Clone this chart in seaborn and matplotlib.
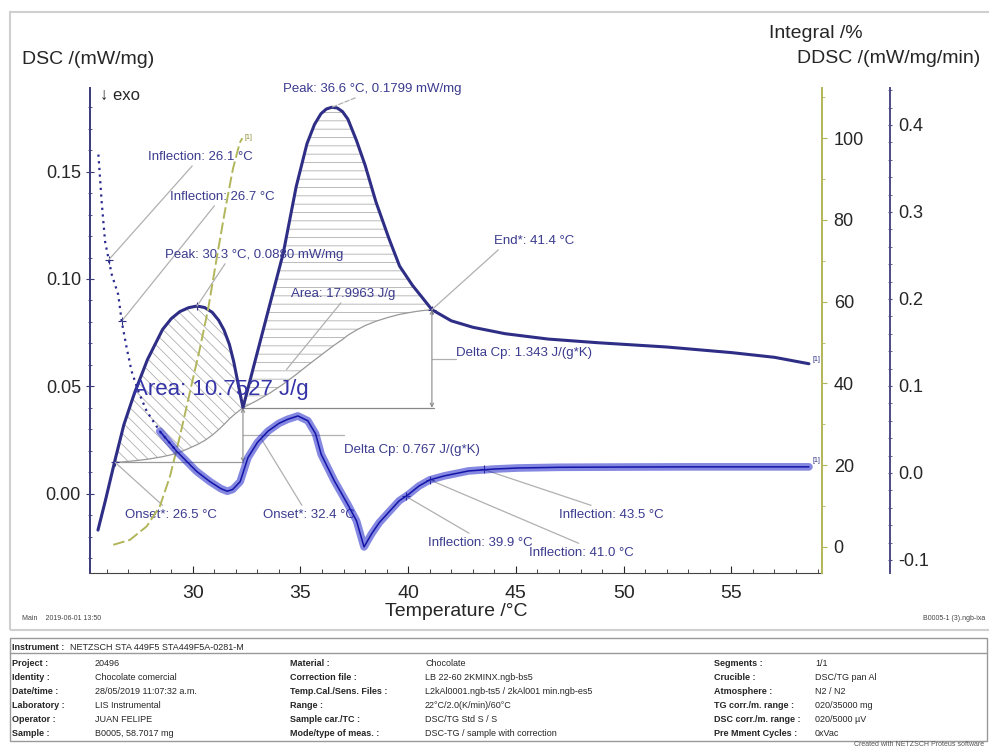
import matplotlib
matplotlib.use('Agg')
import matplotlib.pyplot as plt
from matplotlib.patches import Rectangle
from matplotlib.ticker import MultipleLocator, FormatStrFormatter
import seaborn as sns

# DSC signal /(mW/mg)
dsc_temp = [25.6, 25.95, 26.4, 26.8, 27.3, 27.9, 28.6, 29.0, 29.4, 29.8, 30.2, 30.55, 30.9,
            31.2, 31.45, 31.7, 31.9, 32.1, 32.33, 32.95, 33.6, 34.2, 34.8, 35.3, 35.65, 35.95,
            36.2, 36.45, 36.7, 36.95, 37.2, 37.6, 38.0, 38.5, 39.1, 39.6, 40.2, 40.6, 41.1,
            42.0, 43.0, 44.5, 46.5, 48.8, 52.0, 55.0, 57.0, 58.6]
dsc_val = [-0.017, -0.003, 0.016, 0.032, 0.047, 0.0625, 0.0765, 0.0815, 0.0848, 0.0866, 0.0874,
           0.0867, 0.0845, 0.0808, 0.0762, 0.0695, 0.0615, 0.0515, 0.040, 0.064, 0.089, 0.112,
           0.143, 0.163, 0.172, 0.177, 0.1792, 0.180, 0.1797, 0.178, 0.1745, 0.1645, 0.153,
           0.136, 0.119, 0.106, 0.097, 0.092, 0.0857, 0.0805, 0.0775, 0.0745, 0.072, 0.0703,
           0.0683, 0.0657, 0.0635, 0.0605]

# peak limits and sigmoid baselines (same temperatures as the DSC points between them)
peak1_start, peak1_end = 26.4, 32.33
peak2_start, peak2_end = 32.33, 41.1
base1_val = [0.0145, 0.0148, 0.0153, 0.016, 0.0172, 0.0181, 0.0193, 0.021, 0.0228, 0.0247,
             0.0272, 0.0298, 0.0322, 0.0348, 0.0366, 0.0382, 0.040]
base2_val = [0.040, 0.0432, 0.047, 0.051, 0.0555, 0.0595, 0.0622, 0.0645, 0.0664, 0.0683,
             0.0701, 0.0718, 0.0738, 0.0762, 0.0783, 0.0803, 0.0822, 0.0835, 0.0846, 0.0852,
             0.0857]

# DDSC /(mW/mg/min)
ddsc_temp = [25.62, 25.77, 25.93, 26.1, 26.24, 26.54, 26.7, 26.93, 27.16, 27.47, 27.86, 28.47,
             29.25, 30.17, 30.8, 31.3, 31.6, 31.85, 32.2, 32.56, 33.0, 33.49, 34.0, 34.41, 34.88,
             35.34, 35.7, 35.96, 36.57, 37.19, 37.6, 37.95, 38.3, 38.66, 39.1, 39.58, 40.0, 40.5,
             41.0, 41.67, 42.8, 44.0, 45.1, 47.0, 50.0, 53.0, 56.0, 58.6]
ddsc_val = [0.366, 0.312, 0.266, 0.245, 0.228, 0.205, 0.1745, 0.144, 0.117, 0.094, 0.071, 0.048,
            0.025, 0.002, -0.010, -0.018, -0.021, -0.019, -0.010, 0.0176, 0.035, 0.048, 0.057,
            0.0617, 0.0655, 0.060, 0.045, 0.0214, -0.009, -0.036, -0.055, -0.085, -0.070, -0.057,
            -0.045, -0.032, -0.025, -0.015, -0.008, -0.0034, 0.0023, 0.0045, 0.0057, 0.0065,
            0.0068, 0.007, 0.007, 0.007]

# Integral /%
int_temp = [26.31, 27.08, 27.86, 28.47, 28.94, 29.4, 29.86, 30.32, 30.71, 31.1, 31.48, 31.86,
            32.18, 32.3]
int_val = [0.5, 1.7, 5.0, 9.9, 17.2, 27.0, 37.7, 48.3, 58.1, 70.3, 81.8, 92.4, 98.9, 100.0]

NAVY = '#2e2e86'
BLUE = '#1f26c8'
OLIVE = '#b2b65a'
GRAY = '#b0b0b0'
TXT = '#3b3b8f'

sns.set_style('ticks')
plt.rcParams['font.family'] = ['Liberation Sans', 'DejaVu Sans']
plt.rcParams['hatch.linewidth'] = 0.6

fig = plt.figure(figsize=(9.89, 7.5), dpi=100)
ax = fig.add_axes([0.091, 0.236, 0.740, 0.6467])
ax_int = ax.twinx()
ax_dd = ax.twinx()
ax_dd.spines['right'].set_position(('axes', 1.093))

ax.set_xlim(25.23, 59.2)
ax.set_ylim(-0.037, 0.189)
ax_int.set_ylim(-6.4, 112.3)
ax_dd.set_ylim(-0.115, 0.4425)

i1, j1 = dsc_temp.index(peak1_start), dsc_temp.index(peak1_end) + 1
i2, j2 = dsc_temp.index(peak2_start), dsc_temp.index(peak2_end) + 1

# hatched peak areas and baselines
ax.fill_between(dsc_temp[i1:j1], dsc_val[i1:j1], base1_val, facecolor='none',
                edgecolor=GRAY, hatch='\\\\\\', linewidth=0)
ax.fill_between(dsc_temp[i2:j2], dsc_val[i2:j2], base2_val, facecolor='none',
                edgecolor=GRAY, hatch='--', linewidth=0)
sns.lineplot(x=dsc_temp[i1:j1], y=base1_val, ax=ax, color='#999999', linewidth=0.9)
sns.lineplot(x=dsc_temp[i2:j2], y=base2_val, ax=ax, color='#999999', linewidth=0.9)
ax.plot([peak1_start, peak1_end], [base1_val[0], base1_val[0]], color='#999999', lw=0.9)
ax.plot([peak2_start, 41.2], [base2_val[0], base2_val[0]], color='#888888', lw=0.9)

# delta Cp arrows
arrow = dict(arrowstyle='<->', color='#888888', lw=0.8, shrinkA=0, shrinkB=0, mutation_scale=6)
ax.annotate('', xy=(peak1_end, base1_val[0]), xytext=(peak1_end, base1_val[-1]),
            arrowprops=arrow)
ax.annotate('', xy=(peak2_end, base2_val[0]), xytext=(peak2_end, base2_val[-1]),
            arrowprops=arrow)
mid1 = (base1_val[0] + base1_val[-1]) / 2
mid2 = (base2_val[0] + base2_val[-1]) / 2
ax.plot([peak1_end, 37.0], [mid1, mid1], color=GRAY, lw=0.9)
ax.plot([peak2_end, 42.2], [mid2, mid2], color=GRAY, lw=0.9)

# curves
sns.lineplot(x=dsc_temp, y=dsc_val, ax=ax, color=NAVY, linewidth=2.2)
sns.lineplot(x=int_temp, y=int_val, ax=ax_int, color=OLIVE, linewidth=1.4, linestyle=(0, (6, 2)))
sns.lineplot(x=ddsc_temp[:13], y=ddsc_val[:13], ax=ax_dd, color='#2a2a90', linewidth=1.6,
             linestyle=(0, (1, 2)))
sns.lineplot(x=ddsc_temp[11:], y=ddsc_val[11:], ax=ax_dd, color=BLUE, linewidth=5.5, alpha=0.55)
sns.lineplot(x=ddsc_temp[11:], y=ddsc_val[11:], ax=ax_dd, color='#1414a8', linewidth=1.1)

# annotations
lead = dict(arrowstyle='-', color=GRAY, lw=0.9, shrinkA=0, shrinkB=0)
kw = dict(fontsize=9.5, color=TXT, ha='left', va='center')


def note(text, xy, xyt, trans, relpos, style=None, mark=True):
    props = dict(lead, relpos=relpos)
    if style:
        props['linestyle'] = style
    ax.annotate(text, xy=xy, xycoords=trans, xytext=xyt, textcoords='data',
                arrowprops=props, **kw)
    if mark:
        ax.plot(*trans.transform(xy), marker='+', color=NAVY, markersize=6, mew=0.8,
                transform=None)


note('Peak: 36.6 °C, 0.1799 mW/mg', (36.45, 0.180), (34.17, 0.1887),
     ax.transData, (0.47, 0.1), style='--', mark=False)
note('Inflection: 26.1 °C', (26.1, 0.245), (27.92, 0.157), ax_dd.transData, (0.45, 0.0))
note('Inflection: 26.7 °C', (26.7, 0.1745), (28.94, 0.1384), ax_dd.transData, (0.45, 0.0))
note('Peak: 30.3 °C, 0.0880 mW/mg', (30.2, 0.0874), (28.7, 0.1114),
     ax.transData, (0.35, 0.0))
note('Area: 17.9963 J/g', (34.35, 0.0578), (34.58, 0.0932), ax.transData, (0.5, 0.0),
     mark=False)
note('End*: 41.4 °C', (peak2_end, base2_val[-1]), (43.98, 0.1179), ax.transData, (0.1, 0.0))
note('Onset*: 26.5 °C', (peak1_start, base1_val[0]), (26.85, -0.0098), ax.transData,
     (0.45, 1.0))
note('Onset*: 32.4 °C', (33.2, 0.0252), (33.24, -0.0098), ax.transData, (0.45, 1.0),
     mark=False)
note('Inflection: 39.9 °C', (39.9, -0.027), (40.9, -0.0228), ax_dd.transData, (0.45, 1.0))
note('Inflection: 41.0 °C', (41.0, -0.008), (45.6, -0.0275), ax_dd.transData, (0.55, 1.0))
note('Inflection: 43.5 °C', (43.5, 0.004), (47.0, -0.0098), ax_dd.transData, (0.4, 1.0))
ax.text(42.22, 0.0657, 'Delta Cp: 1.343 J/(g*K)', **kw)
ax.text(37.04, 0.0205, 'Delta Cp: 0.767 J/(g*K)', **kw)
ax.text(27.22, 0.0485, 'Area: 10.7527 J/g', fontsize=16, color='#3434a8', ha='left', va='center')
ax.text(32.4, 0.166, '[1]', fontsize=5, color='#8a8a30', ha='left', va='center')
ax.text(58.75, 0.0625, '[1]', fontsize=5, color=NAVY, ha='left', va='center')
ax.text(58.75, 0.0152, '[1]', fontsize=5, color=NAVY, ha='left', va='center')

# spines and ticks
for s in ['top', 'right']:
    ax.spines[s].set_visible(False)
ax.spines['left'].set_color('#3a3a7a')
ax.spines['left'].set_linewidth(1.4)
ax.spines['bottom'].set_color('#444444')
for a, c in [(ax_int, OLIVE), (ax_dd, '#4c4c84')]:
    for s in ['top', 'left', 'bottom']:
        a.spines[s].set_visible(False)
    a.spines['right'].set_color(c)
    a.spines['right'].set_linewidth(1.4)
    a.set_ylabel('')

ax.set_xticks([30, 35, 40, 45, 50, 55])
ax.xaxis.set_minor_locator(MultipleLocator(1))
ax.set_yticks([0.0, 0.05, 0.10, 0.15])
ax.yaxis.set_major_formatter(FormatStrFormatter('%.2f'))
ax.yaxis.set_minor_locator(MultipleLocator(0.01))
ax.tick_params(axis='x', which='both', direction='in', bottom=True, labelsize=14, pad=9)
ax.tick_params(axis='x', which='major', length=5)
ax.tick_params(axis='x', which='minor', length=3)
ax.tick_params(axis='y', which='both', direction='inout', left=True, labelsize=13,
               color='#3a3a7a')
ax.tick_params(axis='y', which='major', length=6)
ax.tick_params(axis='y', which='minor', length=3)

ax_int.set_yticks([0, 20, 40, 60, 80, 100])
ax_int.yaxis.set_minor_locator(MultipleLocator(10))
ax_int.tick_params(axis='y', which='both', direction='out', right=True, labelsize=13,
                   color=OLIVE, pad=5)
ax_int.tick_params(axis='y', which='minor', length=2)

ax_dd.set_yticks([-0.1, 0.0, 0.1, 0.2, 0.3, 0.4])
ax_dd.yaxis.set_major_formatter(FormatStrFormatter('%.1f'))
ax_dd.yaxis.set_minor_locator(MultipleLocator(0.02))
ax_dd.tick_params(axis='y', which='both', direction='inout', right=True, labelsize=13,
                  color='#4c4c84', pad=4)
ax_dd.tick_params(axis='y', which='minor', length=3)

ax.set_xlabel('Temperature /°C', fontsize=14, labelpad=0)
ax.set_ylabel('')

# titles of the axes
fig.text(0.022, 0.92, 'DSC /(mW/mg)', fontsize=14, ha='left', va='center')
fig.text(0.778, 0.956, 'Integral /%', fontsize=14, ha='left', va='center')
fig.text(0.991, 0.922, 'DDSC /(mW/mg/min)', fontsize=14, ha='right', va='center')
fig.text(0.101, 0.873, '↓ exo', fontsize=12, ha='left', va='center')

# page frame and footer
fig.add_artist(Rectangle((10 / 989, 1 - 630 / 750), 985 / 989, 618 / 750, fill=False,
                         edgecolor='#cfcfcf', lw=1.5, transform=fig.transFigure))
fig.text(22 / 989, 1 - 619 / 750, 'Main    2019-06-01 13:50', fontsize=5, ha='left',
         va='center', color='#444444')
fig.text(985 / 989, 1 - 619 / 750, 'B0005-1 (3).ngb-ixa', fontsize=5, ha='right',
         va='center', color='#444444')

fig.add_artist(Rectangle((10 / 989, 1 - 741 / 750), 977 / 989, 103 / 750, fill=False,
                         edgecolor='#999999', lw=1.0, transform=fig.transFigure))
fig.add_artist(plt.Line2D([10 / 989, 987 / 989], [1 - 653 / 750, 1 - 653 / 750],
                          color='#999999', lw=1.0, transform=fig.transFigure))

instrument = 'NETZSCH STA 449F5 STA449F5A-0281-M'
table_labels = [
    ['Project :', 'Identity :', 'Date/time :', 'Laboratory :', 'Operator :', 'Sample :'],
    ['Material :', 'Correction file :', 'Temp.Cal./Sens. Files :', 'Range :',
     'Sample car./TC :', 'Mode/type of meas. :'],
    ['Segments :', 'Crucible :', 'Atmosphere :', 'TG corr./m. range :',
     'DSC corr./m. range :', 'Pre Mment Cycles :'],
]
table_values = [
    ['20496', 'Chocolate comercial', '28/05/2019 11:07:32 a.m.', 'LIS Instrumental',
     'JUAN FELIPE', 'B0005, 58.7017 mg'],
    ['Chocolate', 'LB 22-60 2KMINX.ngb-bs5', 'L2kAl0001.ngb-ts5 / 2kAl001 min.ngb-es5',
     '22°C/2.0(K/min)/60°C', 'DSC/TG Std S / S', 'DSC-TG / sample with correction'],
    ['1/1', 'DSC/TG pan Al', 'N2 / N2', '020/35000 mg', '020/5000 µV', '0xVac'],
]
label_x = [12, 290, 714]
value_x = [95, 425, 815]
row_y = [663, 677, 691, 705, 719, 733]

fig.text(12 / 989, 1 - 647 / 750, 'Instrument :', fontsize=6.5, fontweight='bold',
         ha='left', va='center')
fig.text(70 / 989, 1 - 647 / 750, instrument, fontsize=6.5, ha='left', va='center')
for c in range(3):
    for r in range(6):
        fig.text(label_x[c] / 989, 1 - row_y[r] / 750, table_labels[c][r], fontsize=6.5,
                 fontweight='bold', ha='left', va='center')
        fig.text(value_x[c] / 989, 1 - row_y[r] / 750, table_values[c][r], fontsize=6.5,
                 ha='left', va='center')
fig.text(0.995, 0.002, 'Created with NETZSCH Proteus software', fontsize=5, ha='right',
         va='bottom', color='#555555')

fig.savefig('out.png', dpi=100)
plt.close(fig)
